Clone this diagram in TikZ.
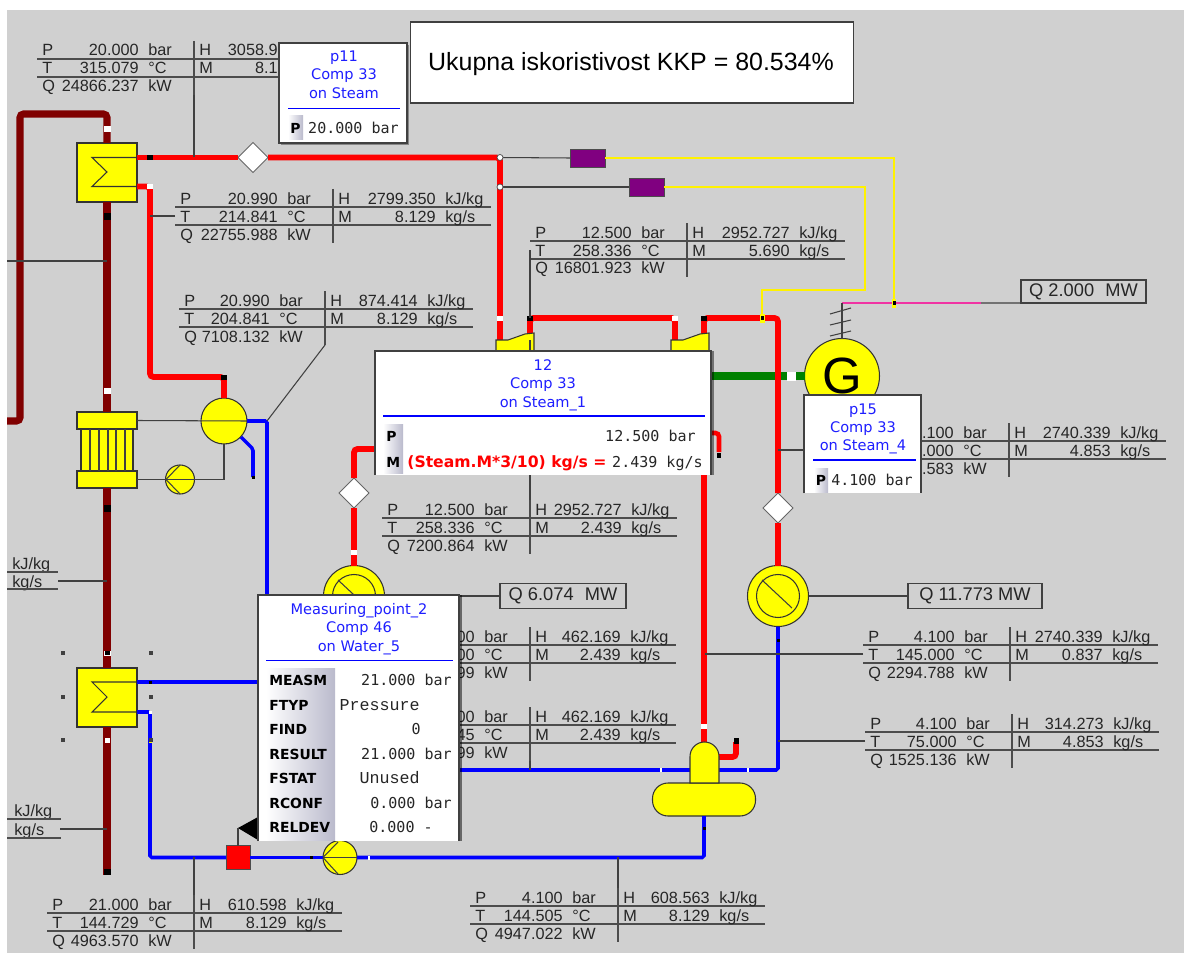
\documentclass[tikz,border=0pt]{standalone}
\usepackage{fontspec}
\setmainfont{Liberation Sans}
\newfontfamily\popfont{DejaVu Sans}
\newfontfamily\valfont{DejaVu Sans Mono}
\newfontfamily\typfont{Liberation Mono}
\usetikzlibrary{shapes.geometric,shadows}
\definecolor{plantbg}{RGB}{208,208,208}
\definecolor{wallred}{RGB}{128,0,0}
\definecolor{steamred}{RGB}{255,0,0}
\definecolor{waterblue}{RGB}{0,0,255}
\definecolor{shaftgreen}{RGB}{0,128,0}
\definecolor{valvepurple}{RGB}{128,0,128}
\definecolor{eqyellow}{RGB}{255,255,0}
\definecolor{badgegray}{RGB}{186,186,204}
\definecolor{popblue}{RGB}{30,30,255}
% stream data block, origin = left end of the P row
\newcommand{\flowgrid}[2]{%
  \coordinate (left) at (0,18);
  \coordinate (top) at (#1,-9);
  \coordinate (sep) at (#1,45);
  \coordinate (lineb) at (0,27);
  \coordinate (linec) at (0,9);
  \draw[rowline] (linec) -- (#2,9);
  \draw[rowline] (lineb) -- (#2,27);
  \draw[rowline] (top) -- (sep);
}
\newcommand{\flowkeys}{%
  \node[key] (pk) at (5,6) {P};
  \node[key] (tk) at (5,24) {T};
  \node[key] (qk) at (5,42) {Q};
}
\newcommand{\flowleft}[4]{%
  \node[num] (pv) at ({#1-55},6) {#2};
  \node[num] (tv) at ({#1-55},24) {#3};
  \node[num] (qv) at ({#1-55},42) {#4};
  \node[key] (pu) at ({#1-46},6) {bar};
  \node[key] (tu) at ({#1-46},24) {°C};
  \node[key] (qu) at ({#1-46},42) {kW};
}
\newcommand{\flowright}[4]{%
  \node[key] (hk) at ({#1+5},6) {H};
  \node[key] (mk) at ({#1+5},24) {M};
  \node[num] (hv) at ({#2-55},6) {#3};
  \node[num] (mv) at ({#2-55},24) {#4};
}
\newcommand{\flowunits}[1]{%
  \node[key] (hu) at ({#1-46},6) {kJ/kg};
  \node[key] (mu) at ({#1-46},24) {kg/s};
}
\newcommand{\flowtab}[7]{%
  \flowgrid{#1}{#2}\flowkeys\flowleft{#1}{#3}{#4}{#5}\flowright{#1}{#2}{#6}{#7}\flowunits{#2}
}
\begin{document}
\begin{tikzpicture}[x=0.02cm,y=-0.02cm,
  sz/.style 2 args={minimum width=#1*0.02cm,minimum height=#2*0.02cm,inner sep=0pt,outer sep=0pt},
  wall/.style={wallred,line width=4pt,rounded corners=2pt},
  steam/.style={steamred,line width=3.3pt,rounded corners=2pt},
  water/.style={waterblue,line width=2pt,rounded corners=1pt},
  stem/.style={black!75,line width=0.6pt},
  signal/.style={yellow,line width=0.8pt},
  rowline/.style={black!70,line width=0.65pt},
  eq/.style={fill=eqyellow,draw=black!80,line width=0.6pt},
  eqc/.style={eq,circle,inner sep=0pt,outer sep=0pt,minimum size=#1*0.02cm},
  dval/.style={diamond,fill=white,draw=black!60,line width=0.5pt,sz={30}{30}},
  mk/.style={fill=#1,sz={6}{5}},
  sel/.style={fill=black!75,sz={4}{4}},
  key/.style={anchor=base west,inner sep=0pt,font=\fontsize{9.25}{11}\selectfont,text=black!85},
  num/.style={anchor=base east,inner sep=0pt,font=\fontsize{9.25}{11}\selectfont,text=black!85},
  qbox/.style={draw=black!75,line width=0.6pt,font=\fontsize{10.4}{12}\selectfont,text=black!85},
  pop/.style={fill=white,sz={#1}},
  frame/.style={black!75,line width=0.65pt},
  ttl/.style={anchor=base,font=\popfont\fontsize{8.3}{10}\selectfont,text=popblue,inner sep=0pt},
  blueline/.style={waterblue,line width=0.6pt},
  badge/.style={left color=white,right color=badgegray,font=\popfont\bfseries\fontsize{7.9}{9}\selectfont},
  fld/.style={anchor=base west,inner sep=0pt,font=\popfont\bfseries\fontsize{7.9}{9}\selectfont},
  mono/.style={anchor=base east,inner sep=0pt,font=\valfont\fontsize{8.55}{10}\selectfont,text=black!85},
  typ/.style={anchor=base east,inner sep=0pt,font=\typfont\fontsize{9.5}{11}\selectfont,text=black!85}]
\useasboundingbox (0,0) rectangle (1184,953);
\fill[plantbg] (7,10) rectangle (1184,953);
% equipment
\node[eq,sz={60}{59}] (hxa) at (107,172.5) {};
\node[eq,sz={60}{17}] (ecot) at (107,420.5) {};
\node[eq,sz={60}{17}] (ecob) at (107,479.5) {};
\node[eq,sz={52}{42}] (ecom) at (107,450) {};
\node[eq,sz={60}{59}] (hxb) at (107,697.5) {};
\node[eqc=46] (dga) at (224,421) {};
\node[eqc=29] (puma) at (180,479.5) {};
\node[eqc=34] (pumb) at (340,857.5) {};
\node[eqc=61] (cnda) at (354,596) {};
\node[eqc=43] (cndai) at (354,596) {};
\node[eqc=61] (cndb) at (778,596) {};
\node[eqc=43] (cndbi) at (778,596) {};
\node[eqc=75,font=\fontsize{29}{30}\selectfont] (gen) at (842,376) {G};
\node[fill=steamred,draw=black!70,line width=0.5pt,sz={24}{24}] (rsq) at (238,857.5) {};
\node[fill=valvepurple,draw=black!70,line width=0.5pt,sz={35}{18}] (pva) at (587.5,158) {};
\node[fill=valvepurple,draw=black!70,line width=0.5pt,sz={35}{18}] (pvb) at (646.5,187) {};
\node[eq,rounded corners=0.31cm,sz={103}{33}] (tank) at (704,799.5) {};
\node[dval] (dva) at (253,157.5) {};
\node[dval] (dvb) at (354,493) {};
\node[dval] (dvc) at (778,508) {};
\coordinate (wallin) at (7,421);
\coordinate (wallend) at (107,875);
\coordinate (wja) at (500,157.5);
\coordinate (wjb) at (500,187);
\coordinate (hxaout) at (137,157.5);
\coordinate (hxaret) at (137,186.5);
\coordinate (hxbin) at (137,682);
\coordinate (hxbout) at (137,712);
\coordinate (tba) at (530,335);
\coordinate (tbain) at (500,342);
\coordinate (tbb) at (704,335);
\coordinate (tbbin) at (675,342);
\coordinate (domet) at (704,743);
\coordinate (domes) at (719,757);
\coordinate (shaft) at (842,303);
\coordinate (elec) at (981,303);
\coordinate (tapa) at (894,303);
\coordinate (tapb) at (762,318);
\coordinate (tee) at (194,157);
% pipes
\draw[shaftgreen,line width=5pt] (705,376) -- (gen.west);
\draw[wall] (wallin) -- (20,421) -- (20,114) -- (107,114) -- (hxa.north);
\draw[wall] (hxa.south) -- (ecot.north);
\draw[wall] (ecob.south) -- (hxb.north);
\draw[wall] (hxb.south) -- (wallend);
\draw[steam] (hxaout) -- (dva.west);
\draw[steam] (dva.east) -- (wja) -- (wjb) -- (tbain);
\draw[steam] (hxaret) -- (150,186.5) -- (150,377) -- (224,377) -- (dga.north);
\draw[steam] (tba) -- (530,318) -- (675,318) -- (tbbin);
\draw[steam] (tbb) -- (704,318) -- (778,318) -- (dvc.north);
\draw[steam] (dvc.south) -- (cndb.north);
\draw[steam] (704,470) -- (domet);
\draw[steam] (380,449) -- (354,449) -- (dvb.north);
\draw[steam] (dvb.south) -- (cnda.north);
\draw[steam] (domes) -- (736,757) -- (736,742);
\draw[steam,line width=2.6pt] (705,433) -- (719,433) -- (719,452);
\draw[water] (hxbin) -- (270,682);
\draw[water] (hxbout) -- (150,712) -- (150,857.5) -- (rsq.west);
\draw[water] (rsq.east) -- (pumb.west);
\draw[water] (pumb.east) -- (704,857.5) -- (tank.south);
\draw[water] (cndb.south) -- (778,770) -- (440,770);
\draw[water] (dga.east) -- (267,421) -- (267,600);
\draw[water] (241,437) -- (253,449) -- (253,477);
\draw[stem] (wja) -- (pva.west);
\draw[stem] (wjb) -- (pvb.west);
\draw[signal] (pva.east) -- (894,158) -- (tapa);
\draw[signal] (pvb.east) -- (865,187) -- (865,290) -- (762,290) -- (tapb);
\draw[magenta!80!white,line width=0.6pt] (shaft) -- (elec);
\draw[stem] (shaft) -- (gen.north);
\draw[stem] (830,314) -- (851,308);
\draw[stem] (830,325) -- (851,320);
\draw[stem] (830,336) -- (851,331);
\draw[stem] (7,261) -- (107,261);
% drum shapes drawn after the pipes
\filldraw[eq] (690,783) [rounded corners=0.29cm] -- (690,742) -- (719,742) [sharp corners] -- (719,783) -- cycle;
\begin{scope}[shift={(496,0)}]
  \filldraw[eq] (0,352) -- (0,340) -- (12,340) -- (29,334) -- (38,333) -- (38,352) -- cycle;
\end{scope}
\begin{scope}[shift={(671,0)}]
  \filldraw[eq] (0,352) -- (0,340) -- (12,340) -- (29,334) -- (38,333) -- (38,352) -- cycle;
\end{scope}
\draw[black!80,line width=0.6pt] (hxaout) -- (92,157.5) -- (107,172) -- (92,186.5) -- (hxaret);
\draw[black!80,line width=0.6pt] (hxbin) -- (92,682) -- (107,697) -- (92,712) -- (hxbout);
\draw[stem] (90,429) -- (90,471);
\draw[stem] (99,429) -- (99,471);
\draw[stem] (108,429) -- (108,471);
\draw[stem] (116,429) -- (116,471);
\draw[stem] (125,429) -- (125,471);
\draw[stem] (ecot.east) -- (dga.east);
\draw[stem] (ecob.east) -- (224,479.5) -- (dga.south);
\draw[stem] (166,479.5) -- (180,465);
\draw[stem] (166,479.5) -- (180,494);
\draw[stem] (323,857.5) -- (338,842);
\draw[stem] (323,857.5) -- (338,874);
\draw[stem] (pumb.west) -- (pumb.east);
\draw[stem] (762,580) -- (792,608);
\draw[stem] (338,580) -- (368,608);
% markers on the pipes
\node[mk=white,sz={7}{6}] (ma) at (107,129) {};
\node[mk=black,sz={7}{7}] (mb) at (107,216) {};
\node[mk=white,sz={7}{6}] (mc) at (107,391) {};
\node[mk=black,sz={7}{7}] (md) at (107,508) {};
\node[mk=white,sz={7}{5}] (me) at (107,653) {};
\node[mk=black,sz={5}{4}] (mf) at (107,653) {};
\node[mk=white,sz={5}{5}] (mg) at (107,740) {};
\node[mk=black,sz={7}{6}] (mh) at (107,872) {};
\node[mk=black] (mi) at (150,157.5) {};
\node[mk=white] (mj) at (150,186.5) {};
\node[mk=black] (mk) at (224,377) {};
\node[mk=white] (ml) at (500,318) {};
\node[mk=black] (mm) at (530,318) {};
\node[mk=white] (mn) at (675,318) {};
\node[mk=black] (mo) at (704,318) {};
\node[mk=white,sz={6}{5}] (mp) at (354,552) {};
\node[mk=white,sz={6}{5}] (mq) at (704,726) {};
\node[mk=black,sz={5}{6}] (mr) at (736,741) {};
\node[mk=black,sz={4}{5}] (ms) at (719,455) {};
\node[mk=black,sz={3}{3}] (mt) at (150,682) {};
\node[mk=white,sz={3}{3}] (mu) at (150,712) {};
\node[mk=eqyellow,sz={3}{3}] (mv) at (150,741) {};
\node[mk=black,sz={3}{3}] (mw) at (311,857.5) {};
\node[mk=white,sz={2}{4}] (mx) at (369,857.5) {};
\node[mk=black,sz={3}{3}] (my) at (253,477) {};
\node[mk=black,sz={3}{3}] (mz) at (778,640) {};
\node[mk=black,sz={3}{3}] (mza) at (704,828) {};
\node[mk=white,sz={2}{4}] (mzb) at (661,770) {};
\node[mk=white,sz={2}{4}] (mzc) at (748,770) {};
\node[mk=white,sz={9}{9}] (mzd) at (791.5,376) {};
\node[mk=eqyellow,sz={4}{9}] (mze) at (894,303) {};
\node[mk=black,sz={3}{4}] (mzf) at (894,303) {};
\node[mk=eqyellow,sz={5}{9}] (mzg) at (762,318) {};
\node[mk=black,sz={3}{4}] (mzh) at (762,318) {};
\node[circle,fill=white,draw=black!70,line width=0.4pt,inner sep=0pt,minimum size=0.12cm] (jna) at (wja) {};
\node[circle,fill=white,draw=black!70,line width=0.4pt,inner sep=0pt,minimum size=0.12cm] (jnb) at (wjb) {};
\node[sel] (sa) at (63,653) {};
\node[sel] (sb) at (151,653) {};
\node[sel] (sc) at (63,697) {};
\node[sel] (sd) at (151,697) {};
\node[sel] (se) at (63,740) {};
\node[sel] (sf) at (151,740) {};
% stream tables
\begin{scope}[shift={(37,50)},name prefix=ta-]
  \flowgrid{157}{242}\flowkeys\flowleft{157}{20.000}{315.079}{24866.237}\flowright{157}{296}{3058.9}{8.1}
\end{scope}
\begin{scope}[shift={(175,198)},name prefix=tb-]
  \flowtab{158}{316}{20.990}{214.841}{22755.988}{2799.350}{8.129}
\end{scope}
\begin{scope}[shift={(179,300)},name prefix=tc-]
  \flowtab{146}{294}{20.990}{204.841}{7108.132}{874.414}{8.129}
\end{scope}
\begin{scope}[shift={(530,232)},name prefix=td-]
  \flowtab{157}{315}{12.500}{258.336}{16801.923}{2952.727}{5.690}
\end{scope}
\begin{scope}[shift={(382,509)},name prefix=te-]
  \flowtab{148}{295}{12.500}{258.336}{7200.864}{2952.727}{2.439}
\end{scope}
\begin{scope}[shift={(866,432)},name prefix=tf-]
  \flowgrid{143}{300}\flowleft{143}{.100}{.000}{.583}\flowright{143}{300}{2740.339}{4.853}\flowunits{300}
\end{scope}
\begin{scope}[shift={(382,636)},name prefix=tg-]
  \flowgrid{148}{294}\flowleft{148}{00}{00}{99}\flowright{148}{294}{462.169}{2.439}\flowunits{294}
\end{scope}
\begin{scope}[shift={(382,716)},name prefix=th-]
  \flowgrid{148}{294}\flowleft{148}{00}{45}{99}\flowright{148}{294}{462.169}{2.439}\flowunits{294}
\end{scope}
\begin{scope}[shift={(863,636)},name prefix=ti-]
  \flowtab{147}{295}{4.100}{145.000}{2294.788}{2740.339}{0.837}
\end{scope}
\begin{scope}[shift={(865,723)},name prefix=tj-]
  \flowtab{147}{294}{4.100}{75.000}{1525.136}{314.273}{4.853}
\end{scope}
\begin{scope}[shift={(470,897)},name prefix=tk-]
  \flowtab{148}{295}{4.100}{144.505}{4947.022}{608.563}{8.129}
\end{scope}
\begin{scope}[shift={(47,904)},name prefix=tl-]
  \flowtab{147}{295}{21.000}{144.729}{4963.570}{610.598}{8.129}
\end{scope}
\node[key] (xja) at (12,569) {kJ/kg};
\node[key] (xma) at (12,587) {kg/s};
\node[key] (xjb) at (14,816) {kJ/kg};
\node[key] (xmb) at (14,835) {kg/s};
\coordinate (xla) at (7,572);
\coordinate (xlb) at (58,572);
\coordinate (xlc) at (7,589);
\coordinate (xld) at (58,589);
\coordinate (xle) at (7,819);
\coordinate (xlf) at (61,819);
\coordinate (xlg) at (7,838);
\coordinate (xlh) at (61,838);
\draw[rowline] (xla) -- (xlb);
\draw[rowline] (xlc) -- (xld);
\draw[rowline] (xle) -- (xlf);
\draw[rowline] (xlg) -- (xlh);
\coordinate (xsa) at (58,581);
\coordinate (xsb) at (107,581);
\coordinate (xsc) at (60,829);
\coordinate (xsd) at (107,829);
\draw[stem] (xsa) -- (xsb);
\draw[stem] (xsc) -- (xsd);
\draw[stem] (ta-sep) -- (tee);
\draw[stem] (tb-left) -- (150,216);
\draw[stem] (tc-sep) -- (267,421);
\draw[stem] (td-left) -- (530,318);
\draw[stem] (te-top) -- (530,340);
\draw[stem] (tf-left) -- (778,450);
\draw[stem] (th-sep) -- (530,770);
\draw[stem] (ti-left) -- (705,654);
\draw[stem] (tj-left) -- (778,741);
\draw[stem] (tk-top) -- (618,857);
\draw[stem] (tl-top) -- (194,857);
% heat duties
\node[qbox,sz={125}{23}] (qa) at (1083.5,291.5) {Q 2.000\,\, MW};
\node[qbox,sz={126}{25}] (qb) at (563,596) {Q 6.074\,\, MW};
\node[qbox,sz={134}{25}] (qc) at (975,596) {Q 11.773 MW};
\draw[stem] (elec) -- (qa.south west);
\draw[stem] (cnda.east) -- (qb.west);
\draw[stem] (cndb.east) -- (qc.west);
% control valve
\coordinate (ctip) at (238,828);
\coordinate (cta) at (258,817);
\coordinate (ctb) at (258,840);
\fill[black] (ctip) -- (cta) -- (ctb) -- cycle;
\draw[stem] (rsq.north) -- (ctip);
% headline
\node[fill=white,draw=black!75,line width=0.65pt,sz={443}{81},font=\fontsize{14.2}{16}\selectfont] (head) at (632,62.5) {};
\node[anchor=base,inner sep=0pt,font=\fontsize{14.2}{16}\selectfont] (headt) at (631,71) {Ukupna iskoristivost KKP = 80.534\%};
% popup p11
\node[pop={128}{100},draw=black!75,line width=0.8pt,drop shadow={shadow xshift=1.4pt,shadow yshift=-1.4pt,fill=black,opacity=.35}] (pa) at (343,93) {};
\node[ttl] (paa) at (344,62) {p11};
\node[ttl] (pab) at (344,80) {Comp 33};
\node[ttl] (pac) at (344,99) {on Steam};
\draw[blueline] (288,108.5) -- (400,108.5);
\node[badge,sz={15}{24}] (pad) at (295.5,128) {P};
\node[mono] (pae) at (399,133) {20.000 bar};
% popup 12
\node[pop={336}{124},drop shadow={shadow xshift=1.6pt,shadow yshift=0pt,fill=black,opacity=.45}] (pb) at (543,413) {};
\draw[frame] (pb.south west) -- (pb.north west) -- (pb.north east) -- (pb.south east);
\node[ttl] (pba) at (543,370) {12};
\node[ttl] (pbb) at (543,388) {Comp 33};
\node[ttl] (pbc) at (543,407) {on Steam\_1};
\draw[blueline] (383,416) -- (705,416);
\node[badge,sz={20}{49}] (pbd) at (393,448.5) {};
\node[fld] (pbe) at (386,441) {P};
\node[fld] (pbf) at (386,467) {M};
\node[mono] (pbg) at (696,441) {12.500 bar};
\node[anchor=base west,inner sep=0pt,font=\popfont\bfseries\fontsize{8.9}{10}\selectfont,text=steamred] (pbh) at (407,467) {(Steam.M*3/10) kg/s =};
\node[mono] (pbi) at (703,467) {2.439 kg/s};
% popup p15
\node[pop={117}{98}] (pc) at (862.5,444) {};
\draw[frame] (pc.south west) -- (pc.north west) -- (pc.north east) -- (pc.south east);
\node[ttl] (pca) at (863,414) {p15};
\node[ttl] (pcb) at (863,432) {Comp 33};
\node[ttl] (pcc) at (863,450) {on Steam\_4};
\draw[blueline] (813,460) -- (916,460);
\node[badge,sz={14}{24}] (pcd) at (821,480) {P};
\node[mono] (pce) at (913,485) {4.100 bar};
% popup Measuring_point_2
\node[pop={201}{246},drop shadow={shadow xshift=1.6pt,shadow yshift=0pt,fill=black,opacity=.5}] (pd) at (358.5,718) {};
\draw[frame] (pd.south west) -- (pd.north west) -- (pd.north east) -- (pd.south east);
\node[ttl] (pda) at (359,614) {Measuring\_point\_2};
\node[ttl] (pdb) at (359,632) {Comp 46};
\node[ttl] (pdc) at (359,651) {on Water\_5};
\draw[blueline] (266,660.5) -- (453,660.5);
\node[badge,sz={69}{172}] (pdd) at (300.5,754) {};
\node[fld] (pde) at (269,685) {MEASM};
\node[fld] (pdf) at (269,710) {FTYP};
\node[fld] (pdg) at (269,734) {FIND};
\node[fld] (pdh) at (269,759) {RESULT};
\node[fld] (pdi) at (269,783) {FSTAT};
\node[fld] (pdj) at (269,808) {RCONF};
\node[fld] (pdk) at (269,832) {RELDEV};
\node[mono] (pdl) at (452,685) {21.000 bar};
\node[typ] (pdm) at (420,710) {Pressure};
\node[mono] (pdn) at (421,734) {0};
\node[mono] (pdo) at (452,759) {21.000 bar};
\node[typ] (pdp) at (420,783) {Unused};
\node[mono] (pdq) at (452,808) {0.000 bar};
\node[mono] (pdr) at (433,832) {0.000 -};
\end{tikzpicture}
\end{document}
